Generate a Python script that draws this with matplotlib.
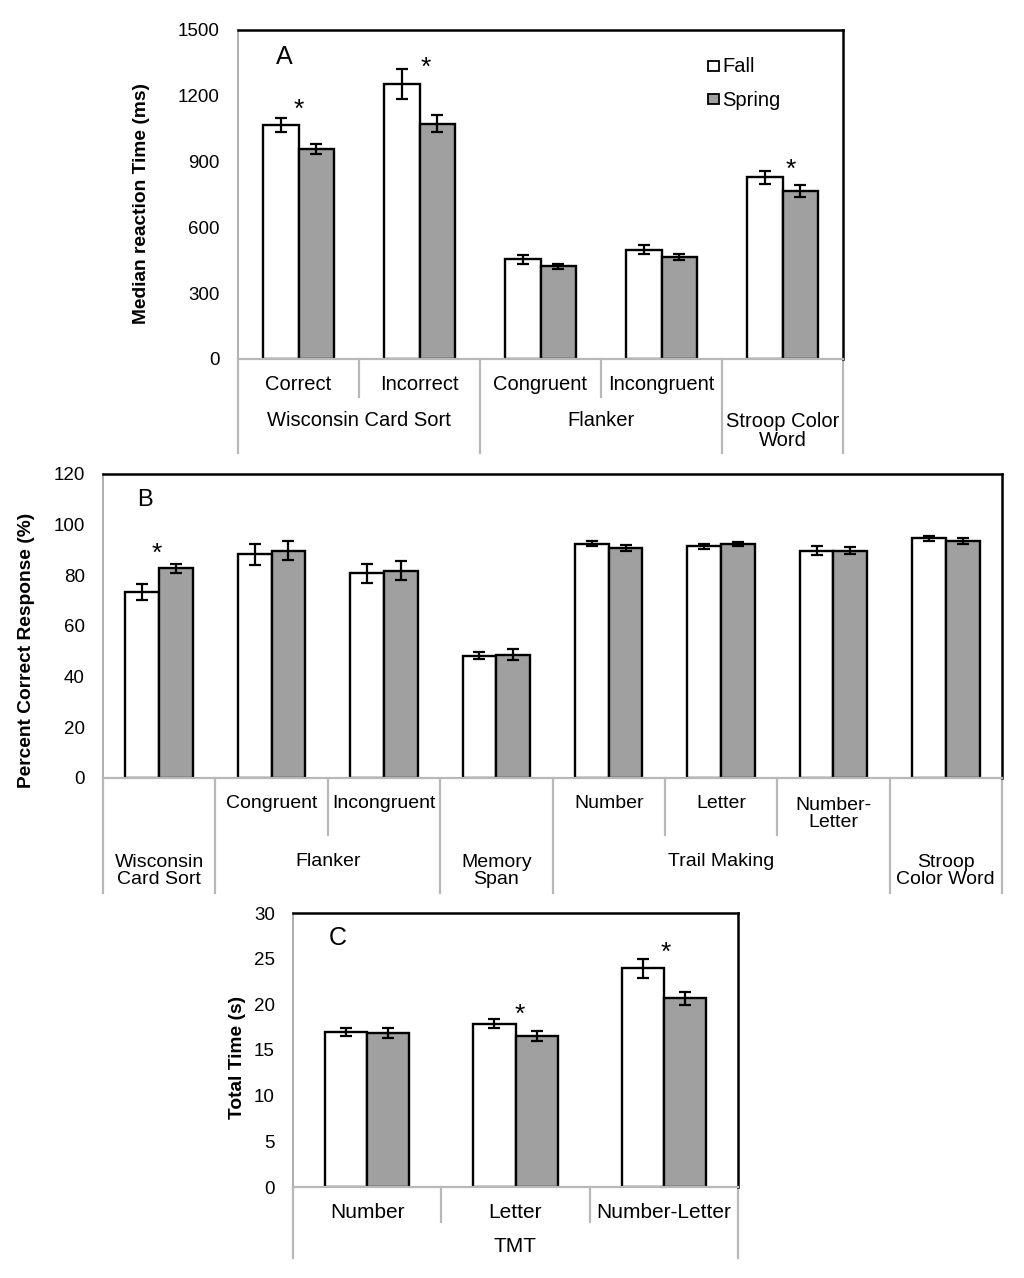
import matplotlib
matplotlib.use("Agg")
import matplotlib.pyplot as plt
import matplotlib.transforms as mtransforms
from matplotlib.patches import Rectangle
import numpy as np

plt.rcParams['font.family'] = ['Liberation Sans', 'DejaVu Sans']

# ---------------- data ----------------
a_cats = ["Correct", "Incorrect", "Congruent", "Incongruent", "Stroop Color\nWord"]
a_fall = [1067, 1253, 454, 498, 829]
a_fall_err = [32, 68, 22, 20, 29]
a_spring = [958, 1073, 422, 466, 767]
a_spring_err = [23, 40, 10, 13, 27]

b_cats = ["Wisconsin\nCard Sort", "Congruent", "Incongruent", "Memory\nSpan",
          "Number", "Letter", "Number-\nLetter", "Stroop\nColor Word"]
b_fall = [73.4, 88.3, 80.8, 48.3, 92.5, 91.4, 89.7, 94.6]
b_fall_err = [3.3, 4.1, 3.7, 1.3, 1.1, 0.9, 1.7, 0.9]
b_spring = [82.8, 89.8, 81.8, 48.7, 90.8, 92.5, 89.7, 93.4]
b_spring_err = [1.8, 3.8, 3.7, 2.2, 1.1, 0.8, 1.3, 1.2]

c_cats = ["Number", "Letter", "Number-Letter"]
c_fall = [16.94, 17.86, 23.93]
c_fall_err = [0.42, 0.5, 1.0]
c_spring = [16.83, 16.54, 20.67]
c_spring_err = [0.55, 0.57, 0.73]

W, H = 1024, 1278
fig = plt.figure(figsize=(W / 100, H / 100), dpi=100)

GREY = '#a0a0a0'
LINE_GREY = '#b8b8b8'


def fy(py):
    return 1 - py / H


def make_axes(l, t, r, b):
    return fig.add_axes([l / W, fy(b), (r - l) / W, (b - t) / H])


def style(ax):
    ax.spines['top'].set_color('black')
    ax.spines['right'].set_color('black')
    ax.spines['top'].set_linewidth(1.8)
    ax.spines['right'].set_linewidth(1.8)
    ax.spines['left'].set_color('#a0a0a0')
    ax.spines['bottom'].set_color(LINE_GREY)
    ax.spines['left'].set_linewidth(1.2)
    ax.spines['bottom'].set_linewidth(1.6)
    ax.tick_params(axis='y', length=0, labelsize=13.5, pad=13)
    ax.tick_params(axis='x', length=0, labelbottom=False)


def bars(ax, fall, ferr, spring, serr, width):
    x = np.arange(len(fall))
    ax.bar(x - width / 2, fall, width, color='white', edgecolor='black', linewidth=1.7, zorder=2)
    ax.bar(x + width / 2, spring, width, color=GREY, edgecolor='black', linewidth=1.7, zorder=2)
    for xs, v, e in ((x - width / 2, fall, ferr), (x + width / 2, spring, serr)):
        ax.errorbar(xs, v, yerr=e, fmt='none', ecolor='black', elinewidth=1.6,
                    capsize=4, capthick=1.6, zorder=3)
    ax.set_xlim(-0.5, len(fall) - 0.5)


def star(ax, xv, yv, size=19):
    ax.annotate("*", (xv, yv), xytext=(0, -0.55 * size), textcoords='offset points',
                ha='center', va='baseline', fontsize=size)


def table_lines(ax, xs, y0, y1):
    tr = mtransforms.blended_transform_factory(ax.transData, fig.transFigure)
    for xv in xs:
        ax.plot([xv, xv], [fy(y0), fy(y1)], transform=tr, color=LINE_GREY,
                lw=1.6, clip_on=False)


def table_text(ax, xv, py, s, size):
    tr = mtransforms.blended_transform_factory(ax.transData, fig.transFigure)
    ax.text(xv, fy(py), s, transform=tr, ha='center', va='center', fontsize=size,
            linespacing=1.05)


def ylab(px, py, s):
    fig.text(px / W, fy(py), s, rotation=90, ha='center', va='center',
             fontsize=13.8, fontweight='bold')


# ---------------- Panel A ----------------
axA = make_axes(238, 30, 843, 359)
style(axA)
bars(axA, a_fall, a_fall_err, a_spring, a_spring_err, 0.29)
axA.set_ylim(0, 1500)
axA.set_yticks(np.arange(0, 1501, 300))
ylab(141, 203, "Median reaction Time (ms)")
fig.text(284 / W, fy(57), "A", fontsize=18, ha='center', va='center')
star(axA, 0.0, 1172)
star(axA, 1.05, 1363)
star(axA, 4.07, 895)
# legend
for py, col, lab in ((66, 'white', 'Fall'), (99, GREY, 'Spring')):
    fig.patches.append(Rectangle((708 / W, fy(py + 5)), 11 / W, 10 / H, facecolor=col,
                                 edgecolor='black', linewidth=1.3,
                                 transform=fig.transFigure, figure=fig))
    fig.text(722 / W, fy(py + 1), lab, fontsize=14.5, ha='left', va='center')
table_lines(axA, [-0.5, 1.5, 3.5, 4.5], 359, 453)
table_lines(axA, [0.5, 2.5], 359, 397)
for i, c in enumerate(a_cats[:4]):
    table_text(axA, i, 385, c, 14.5)
table_text(axA, 0.5, 420, "Wisconsin Card Sort", 14.5)
table_text(axA, 2.5, 420, "Flanker", 14.5)
table_text(axA, 4, 431, a_cats[4], 14.5)

# ---------------- Panel B ----------------
axB = make_axes(103, 474, 1002, 778)
style(axB)
bars(axB, b_fall, b_fall_err, b_spring, b_spring_err, 0.30)
axB.set_ylim(0, 120)
axB.set_yticks(np.arange(0, 121, 20))
ylab(27, 650, "Percent Correct Response (%)")
fig.text(145 / W, fy(500), "B", fontsize=17, ha='center', va='center')
star(axB, -0.02, 91.5)
table_lines(axB, [-0.5, 0.5, 2.5, 3.5, 6.5, 7.5], 778, 893)
table_lines(axB, [1.5, 4.5, 5.5], 778, 835)
for i in [1, 2, 4, 5]:
    table_text(axB, i, 803, b_cats[i], 14)
table_text(axB, 6, 814, b_cats[6], 14)
table_text(axB, 0, 871, b_cats[0], 14)
table_text(axB, 1.5, 861, "Flanker", 14)
table_text(axB, 3, 871, b_cats[3], 14)
table_text(axB, 5, 861, "Trail Making", 14)
table_text(axB, 7, 871, b_cats[7], 14)

# ---------------- Panel C ----------------
axC = make_axes(293, 913, 738, 1187)
style(axC)
bars(axC, c_fall, c_fall_err, c_spring, c_spring_err, 0.285)
axC.set_ylim(0, 30)
axC.set_yticks(np.arange(0, 31, 5))
ylab(238, 1057, "Total Time (s)")
fig.text(338 / W, fy(938), "C", fontsize=18, ha='center', va='center')
star(axC, 1.03, 19.7)
star(axC, 2.01, 26.5)
table_lines(axC, [-0.5, 2.5], 1187, 1258)
table_lines(axC, [0.5, 1.5], 1187, 1222)
for i, c in enumerate(c_cats):
    table_text(axC, i, 1212, c, 15)
table_text(axC, 1, 1247, "TMT", 15)

fig.savefig("out.png", dpi=100, facecolor='white')
